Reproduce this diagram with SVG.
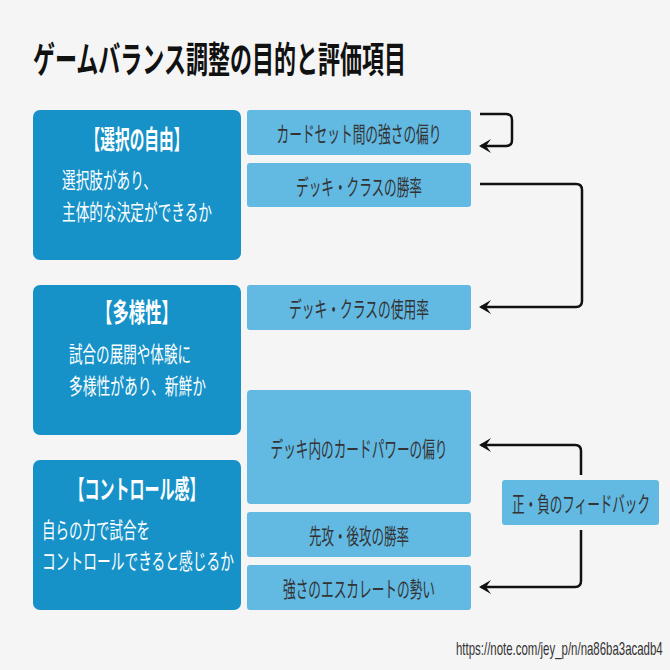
<svg xmlns="http://www.w3.org/2000/svg" width="670" height="670" viewBox="0 0 670 670">
<style>
text{font-family:"Noto Sans CJK JP","Noto Sans",sans-serif;}
.t{font-size:36px;font-weight:bold;fill:#111;}
.lb{fill:#1692C8;}
.mb{fill:#62B9E2;}
.lt{font-size:26px;font-weight:bold;fill:#fff;text-anchor:middle;dominant-baseline:central;}
.ls{font-size:22px;fill:#fff;dominant-baseline:central;}
.mt{font-size:22px;fill:#333;text-anchor:middle;dominant-baseline:central;}
.c{fill:none;stroke:#111;stroke-width:2.5;}
.u{font-family:"Liberation Sans",sans-serif;font-size:18px;fill:#333;}
</style>
<defs>
<marker id="ah" markerWidth="12" markerHeight="14" refX="10" refY="7" orient="auto" markerUnits="userSpaceOnUse" viewBox="0 0 12 14">
<path d="M12,7 L0,0 L5,7 L0,14 Z" fill="#111"/>
</marker>
</defs>
<rect x="0" y="0" width="670" height="670" fill="#F5F5F5"/>
<text class="t" x="33" y="73" textLength="373" lengthAdjust="spacingAndGlyphs">ゲームバランス調整の目的と評価項目</text>

<g id="freedom">
<rect class="lb" x="33" y="110" width="208" height="150" rx="7"/>
<text class="lt" x="137" y="137" textLength="103" lengthAdjust="spacingAndGlyphs">【選択の自由】</text>
<text class="ls" x="62" y="178" textLength="95" lengthAdjust="spacingAndGlyphs">選択肢があり、</text>
<text class="ls" x="62" y="210" textLength="150" lengthAdjust="spacingAndGlyphs">主体的な決定ができるか</text>
</g>
<g id="diversity">
<rect class="lb" x="33" y="285" width="208" height="150" rx="7"/>
<text class="lt" x="137" y="310" textLength="82" lengthAdjust="spacingAndGlyphs">【多様性】</text>
<text class="ls" x="69" y="352" textLength="122" lengthAdjust="spacingAndGlyphs">試合の展開や体験に</text>
<text class="ls" x="69" y="384" textLength="137" lengthAdjust="spacingAndGlyphs">多様性があり、新鮮か</text>
</g>
<g id="control">
<rect class="lb" x="33" y="460" width="208" height="150" rx="7"/>
<text class="lt" x="137" y="487" textLength="135" lengthAdjust="spacingAndGlyphs">【コントロール感】</text>
<text class="ls" x="42" y="528" textLength="108" lengthAdjust="spacingAndGlyphs">自らの力で試合を</text>
<text class="ls" x="42" y="559" textLength="192" lengthAdjust="spacingAndGlyphs">コントロールできると感じるか</text>
</g>

<g id="m1">
<rect class="mb" x="247" y="110" width="224" height="45" rx="3"/>
<text class="mt" x="359" y="132" textLength="165" lengthAdjust="spacingAndGlyphs">カードセット間の強さの偏り</text>
</g>
<g id="m2">
<rect class="mb" x="247" y="163" width="224" height="44" rx="3"/>
<text class="mt" x="359" y="185" textLength="126" lengthAdjust="spacingAndGlyphs">デッキ・クラスの勝率</text>
</g>
<g id="m3">
<rect class="mb" x="247" y="285" width="224" height="45" rx="3"/>
<text class="mt" x="359" y="307" textLength="140" lengthAdjust="spacingAndGlyphs">デッキ・クラスの使用率</text>
</g>
<g id="m4">
<rect class="mb" x="247" y="390" width="224" height="114" rx="4"/>
<text class="mt" x="359" y="447" textLength="177" lengthAdjust="spacingAndGlyphs">デッキ内のカードパワーの偏り</text>
</g>
<g id="m5">
<rect class="mb" x="247" y="512" width="224" height="45" rx="3"/>
<text class="mt" x="359" y="534" textLength="100" lengthAdjust="spacingAndGlyphs">先攻・後攻の勝率</text>
</g>
<g id="m6">
<rect class="mb" x="247" y="565" width="224" height="45" rx="3"/>
<text class="mt" x="359" y="587" textLength="152" lengthAdjust="spacingAndGlyphs">強さのエスカレートの勢い</text>
</g>
<g id="feedback">
<rect class="mb" x="502" y="480" width="157" height="45" rx="3"/>
<text class="mt" transform="translate(581,502) scale(0.6,1)" x="0" y="0" textLength="230" lengthAdjust="spacingAndGlyphs">正・負のフィードバック</text>
</g>

<g id="connectors">
<path class="c" d="M480,114 H506 Q512,114 512,120 V140 Q512,146 506,146 H481" marker-end="url(#ah)"/>
<path class="c" d="M480,184 H576 Q582,184 582,190 V301 Q582,307 576,307 H481" marker-end="url(#ah)"/>
<path class="c" d="M581,475 V451 Q581,445 575,445 H481" marker-end="url(#ah)"/>
<path class="c" d="M581,530 V581 Q581,587 575,587 H481" marker-end="url(#ah)"/>
</g>

<text class="u" transform="translate(456,655) scale(0.65,1)" x="0" y="0" textLength="318" lengthAdjust="spacingAndGlyphs">https://note.com/jey_p/n/na86ba3acadb4</text>
</svg>
